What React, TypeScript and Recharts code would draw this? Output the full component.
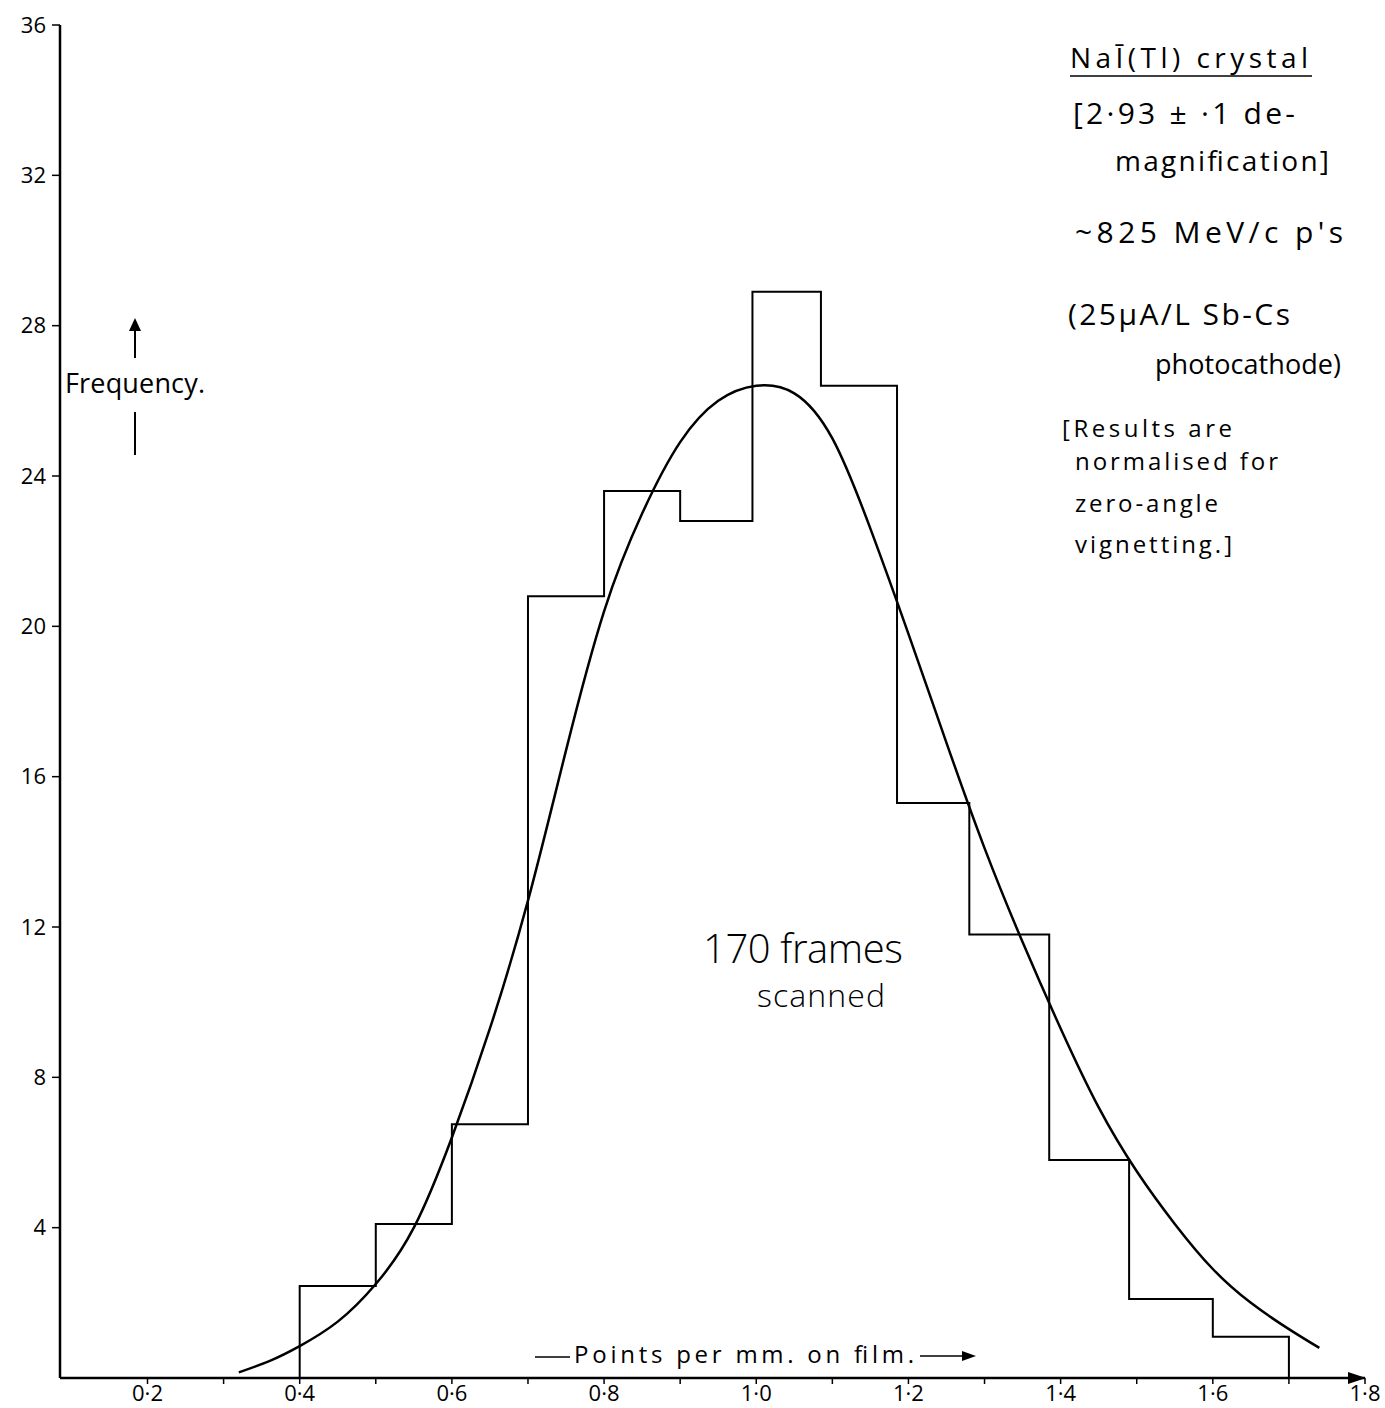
import { ComposedChart, Line, XAxis, YAxis } from 'recharts';

// Histogram of points per mm on film, NaI(Tl) crystal, 170 frames, with fitted curve

// bin edges as drawn on the sheet
const binStarts = [0.4, 0.5, 0.6, 0.7, 0.8, 0.9, 0.995, 1.085, 1.185, 1.28, 1.385, 1.49, 1.6];
const binEnd = 1.7;
const counts = [2.45, 4.1, 6.75, 20.8, 23.6, 22.8, 28.9, 26.4, 15.3, 11.8, 5.8, 2.1, 1.1];

// fitted curve
const curveX = [0.32, 0.36, 0.4, 0.45, 0.5, 0.55, 0.6, 0.65, 0.7, 0.75, 0.8, 0.85, 0.9, 0.95, 1.0, 1.05, 1.1, 1.15, 1.2, 1.25, 1.3, 1.35, 1.4, 1.45, 1.5, 1.55, 1.6, 1.65, 1.7, 1.74];
const curveY = [0.15, 0.45, 0.85, 1.5, 2.5, 4.0, 6.4, 9.3, 12.7, 16.7, 20.4, 23.0, 24.9, 26.0, 26.4, 26.2, 25.0, 22.6, 19.8, 16.9, 14.1, 11.6, 9.3, 7.2, 5.5, 4.1, 2.9, 2.0, 1.3, 0.8];

const xTicks = [0.2, 0.3, 0.4, 0.5, 0.6, 0.7, 0.8, 0.9, 1.0, 1.1, 1.2, 1.3, 1.4, 1.5, 1.6, 1.7, 1.8];
const xTickLabels = ['0·2', '', '0·4', '', '0·6', '', '0·8', '', '1·0', '', '1·2', '', '1·4', '', '1·6', '', '1·8'];
const yTicks = [4, 8, 12, 16, 20, 24, 28, 32, 36];

const W = 1385;
const H = 1408;
const FONT = '"Open Sans", "DejaVu Sans", sans-serif';

const histData = [
  { x: binStarts[0], y: 0 },
  ...binStarts.map((x, i) => ({ x, y: counts[i] })),
  { x: binEnd, y: 0 },
];
const curveData = curveX.map((x, i) => ({ x, y: curveY[i] }));

export default function App() {
  return (
    <div style={{ position: 'absolute', left: 0, top: 0, width: W, height: H, background: '#fff' }}>
      <ComposedChart width={W} height={H} margin={{ top: 25, right: 20, bottom: 0, left: 0 }}>
        <XAxis
          dataKey="x"
          type="number"
          domain={[0.085, 1.8]}
          allowDataOverflow
          ticks={xTicks}
          interval={0}
          tickFormatter={(v: number) => xTickLabels[xTicks.findIndex((t) => Math.abs(t - v) < 1e-6)] ?? ''}
          tickSize={6}
          tickMargin={1}
          height={30}
          axisLine={{ stroke: '#000', strokeWidth: 2.5 }}
          tickLine={{ stroke: '#000', strokeWidth: 1.5 }}
          tick={{ fill: '#000', fontSize: 22, fontFamily: FONT }}
        />
        <YAxis
          type="number"
          domain={[0, 36]}
          allowDataOverflow
          ticks={yTicks}
          interval={0}
          width={60}
          tickSize={8}
          tickMargin={6}
          axisLine={{ stroke: '#000', strokeWidth: 2.5 }}
          tickLine={{ stroke: '#000', strokeWidth: 1.5 }}
          tick={{ fill: '#000', fontSize: 22, fontFamily: FONT }}
        />
        <Line
          data={histData}
          dataKey="y"
          type="stepAfter"
          stroke="#000"
          strokeWidth={2}
          dot={false}
          activeDot={false}
          isAnimationActive={false}
        />
        <Line
          data={curveData}
          dataKey="y"
          type="natural"
          stroke="#000"
          strokeWidth={2.5}
          dot={false}
          activeDot={false}
          isAnimationActive={false}
        />
      </ComposedChart>

      {/* hand-written notes */}
      <svg
        width={W}
        height={H}
        style={{ position: 'absolute', left: 0, top: 0, pointerEvents: 'none' }}
        fontFamily={FONT}
        fill="#000"
      >
        {/* x axis arrow head */}
        <path d="M1348,1372 L1366,1378 L1348,1384 Z" />

        {/* Frequency with arrow */}
        <line x1={135} y1={455} x2={135} y2={412} stroke="#000" strokeWidth={2} />
        <line x1={135} y1={358} x2={135} y2={325} stroke="#000" strokeWidth={2} />
        <path d="M129,331 L135,318 L141,331 Z" />
        <text x={65} y={393} fontSize={27} textLength={140} lengthAdjust="spacing">Frequency.</text>

        {/* centre note */}
        <text x={703} y={963} fontSize={40} fontWeight={300} textLength={200}>170 frames</text>
        <text x={757} y={1007} fontSize={32} fontWeight={300} textLength={128}>scanned</text>

        {/* x axis title */}
        <line x1={535} y1={1357} x2={570} y2={1357} stroke="#000" strokeWidth={1.5} />
        <text x={574} y={1363} fontSize={24} textLength={340} lengthAdjust="spacing">Points per mm. on film.</text>
        <line x1={920} y1={1356} x2={966} y2={1356} stroke="#000" strokeWidth={1.5} />
        <path d="M962,1351 L976,1356 L962,1361 Z" />

        {/* right-hand notes */}
        <text x={1070} y={68} fontSize={28} textLength={238} lengthAdjust="spacing">NaĪ(Tl) crystal</text>
        <line x1={1070} y1={76} x2={1312} y2={76} stroke="#000" strokeWidth={1.5} />
        <text x={1073} y={124} fontSize={30} textLength={222} lengthAdjust="spacing">[2·93 ± ·1  de-</text>
        <text x={1115} y={171} fontSize={28} textLength={214} lengthAdjust="spacing">magnification]</text>
        <text x={1075} y={243} fontSize={30} textLength={268} lengthAdjust="spacing">~825 MeV/c  p's</text>
        <text x={1068} y={325} fontSize={30} textLength={222} lengthAdjust="spacing">(25μA/L  Sb-Cs</text>
        <text x={1155} y={374} fontSize={27} textLength={186} lengthAdjust="spacing">photocathode)</text>
        <text x={1062} y={437} fontSize={24} textLength={170} lengthAdjust="spacing">[Results are</text>
        <text x={1075} y={470} fontSize={24} textLength={203} lengthAdjust="spacing">normalised for</text>
        <text x={1075} y={512} fontSize={24} textLength={143} lengthAdjust="spacing">zero-angle</text>
        <text x={1075} y={553} fontSize={24} textLength={157} lengthAdjust="spacing">vignetting.]</text>
      </svg>
    </div>
  );
}
